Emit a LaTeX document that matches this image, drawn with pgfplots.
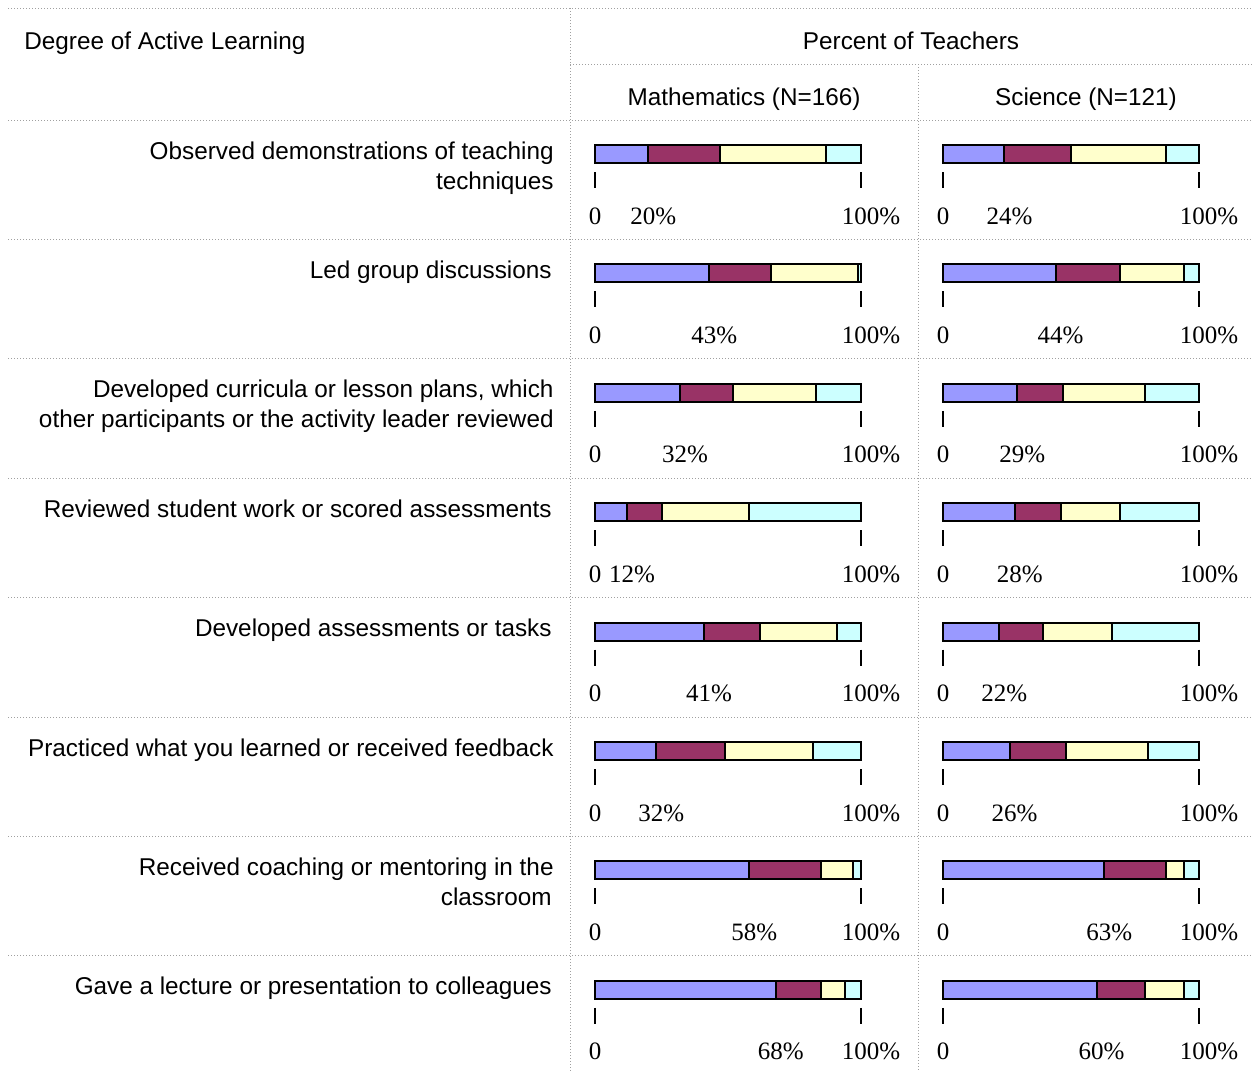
\documentclass[border=0pt]{standalone}
\usepackage{pgfplots}
\pgfplotsset{compat=1.18}
\usepackage{pgfplotstable}
\usepackage{fontspec}
\setmainfont{Liberation Sans}
\newfontfamily\numfont{Liberation Serif}

\definecolor{segA}{HTML}{9999FF}
\definecolor{segB}{HTML}{993366}
\definecolor{segC}{HTML}{FFFFCC}
\definecolor{segD}{HTML}{CCFFFF}
\definecolor{rule}{HTML}{A0A0A0}

% y = bar centre (in 0.5pt units from the top), a..d = stacked shares, lab = printed value
\pgfplotstableread{
y     a  b  c  d  lab
154   20 27 40 13 20
273.4 43 23 33 1  43
392.8 32 20 31 17 32
512.2 12 13 33 42 12
631.6 41 21 29 9  41
751   23 26 33 18 32
870.4 58 27 12 3  58
989.8 68 17 9  6  68
}\mathdata

\pgfplotstableread{
y     a  b  c  d  lab
154   24 26 37 13 24
273.4 44 25 25 6  44
392.8 29 18 32 21 29
512.2 28 18 23 31 28
631.6 22 17 27 34 22
751   26 22 32 20 26
870.4 63 24 7  6  63
989.8 60 19 15 6  60
}\scidata

\newcommand{\scalefont}{\numfont\fontsize{12.5}{14}\selectfont}
\pgfplotsset{
  cellgeom/.style={
    anchor=north west, scale only axis, height=535.5pt,
    xmin=0, xmax=100, ymin=0, ymax=1071, y dir=reverse,
    hide axis, clip=false,
  },
  barcell/.style={cellgeom, xbar stacked, bar width=9pt},
  seg/.style={fill=#1, draw=black, line width=1pt},
  % printed share of the first segment, set under the end of that segment
  sharelabel/.style={only marks, mark=none, point meta=explicit symbolic,
    nodes near coords={\pgfplotspointmeta\%},
    every node near coord/.style={anchor=base, yshift=-35pt, xshift=2.5pt,
      inner sep=0pt, font=\scalefont}},
}

% one scale under a bar: tick top, tick bottom, label baseline
\newcommand{\scaleunder}[3]{%
  \draw[line width=1pt] (axis cs:0,#1) -- (axis cs:0,#2);
  \draw[line width=1pt] (axis cs:100,#1) -- (axis cs:100,#2);
  \node[anchor=base, inner sep=0pt, font=\scalefont] at (axis cs:0,#3) {0};
  \node[anchor=base, inner sep=0pt, xshift=5pt, font=\scalefont] at (axis cs:100,#3) {100\%};
}
\newcommand{\allscales}{%
  \scaleunder{172}{188}{224}
  \scaleunder{291.4}{307.4}{343.4}
  \scaleunder{410.8}{426.8}{462.8}
  \scaleunder{530.2}{546.2}{582.2}
  \scaleunder{649.6}{665.6}{701.6}
  \scaleunder{769}{785}{821}
  \scaleunder{888.4}{904.4}{940.4}
  \scaleunder{1007.8}{1023.8}{1059.8}
}

\begin{document}
\begin{tikzpicture}
\useasboundingbox (0pt,0pt) rectangle (626pt,-535.5pt);
\begin{scope}[x=0.5pt, y=-0.5pt]
  % table rules
  \tikzset{grid/.style={draw=rule, line width=0.5pt, dash pattern=on 0.5pt off 1pt}}
  \draw[grid] (8,8) -- (1252,8);
  \draw[grid] (570,64) -- (1252,64);
  \foreach \yy in {120,239.4,358.8,478.2,597.6,717,836.4,955.8}
    \draw[grid] (8,\yy) -- (1252,\yy);
  \draw[grid] (570,8) -- (570,1071);
  \draw[grid] (918,64) -- (918,1071);

  % headings
  \tikzset{txt/.style={inner sep=0pt, font=\fontsize{12.15}{15}\selectfont}}
  \node[txt, anchor=base west] at (24,49) {Degree of Active Learning};
  \node[txt, anchor=base] at (911,49) {Percent of Teachers};
  \node[txt, anchor=base] at (744,105) {Mathematics (N=166)};
  \node[txt, anchor=base] at (1086,105) {Science (N=121)};

  % row labels
  \node[txt, anchor=base east] at (554,159) {Observed demonstrations of teaching};
  \node[txt, anchor=base east] at (554,189) {techniques};
  \node[txt, anchor=base east] at (552,278.4) {Led group discussions};
  \node[txt, anchor=base east] at (554,397.8) {Developed curricula or lesson plans, which};
  \node[txt, anchor=base east] at (554,427.8) {other participants or the activity leader reviewed};
  \node[txt, anchor=base east] at (552,517.2) {Reviewed student work or scored assessments};
  \node[txt, anchor=base east] at (552,636.6) {Developed assessments or tasks};
  \node[txt, anchor=base east] at (554,756) {Practiced what you learned or received feedback};
  \node[txt, anchor=base east] at (554,875.4) {Received coaching or mentoring in the};
  \node[txt, anchor=base east] at (552,905.4) {classroom};
  \node[txt, anchor=base east] at (552,994.8) {Gave a lecture or presentation to colleagues};
\end{scope}

% Mathematics column
\begin{axis}[barcell, at={(297.5pt,0pt)}, width=133pt]
  \addplot[seg=segA] table[x=a, y=y] {\mathdata};
  \addplot[seg=segB] table[x=b, y=y] {\mathdata};
  \addplot[seg=segC] table[x=c, y=y] {\mathdata};
  \addplot[seg=segD] table[x=d, y=y] {\mathdata};
  \allscales
\end{axis}
\begin{axis}[cellgeom, at={(297.5pt,0pt)}, width=133pt]
  \addplot[sharelabel] table[x=a, y=y, meta=lab] {\mathdata};
\end{axis}

% Science column
\begin{axis}[barcell, at={(471.5pt,0pt)}, width=128pt]
  \addplot[seg=segA] table[x=a, y=y] {\scidata};
  \addplot[seg=segB] table[x=b, y=y] {\scidata};
  \addplot[seg=segC] table[x=c, y=y] {\scidata};
  \addplot[seg=segD] table[x=d, y=y] {\scidata};
  \allscales
\end{axis}
\begin{axis}[cellgeom, at={(471.5pt,0pt)}, width=128pt]
  \addplot[sharelabel] table[x=a, y=y, meta=lab] {\scidata};
\end{axis}
\end{tikzpicture}
\end{document}
